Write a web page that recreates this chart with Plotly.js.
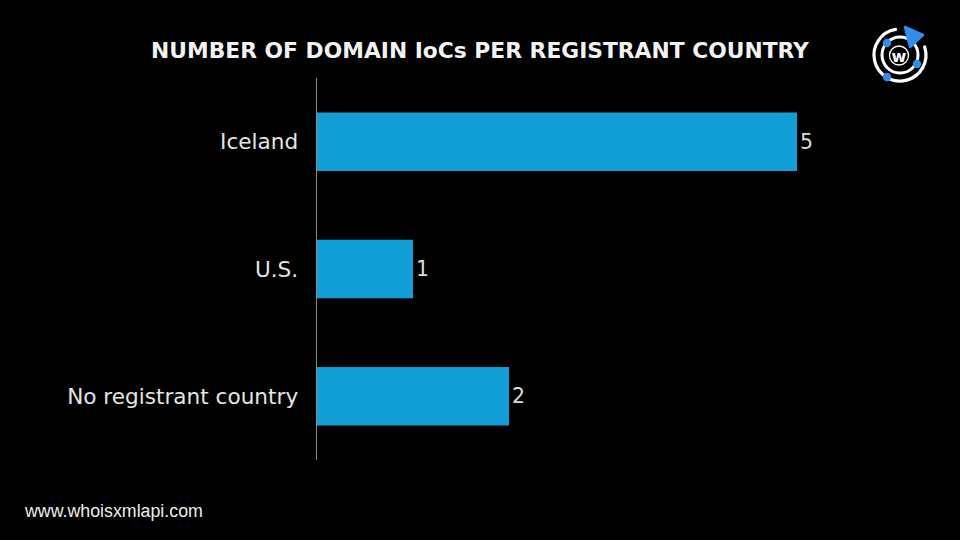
<!DOCTYPE html>
<html>
<head>
<meta charset="utf-8">
<script src="https://cdn.plot.ly/plotly-3.0.1.min.js"></script>
<style>html,body{margin:0;padding:0;background:#000;}#chart{width:960px;height:540px;}</style>
</head>
<body>
<div id="chart"></div>
<script>
const categories = ["Iceland", "U.S.", "No registrant country"];
const values = [5, 1, 2];
const chartTitle = "NUMBER OF DOMAIN IoCs PER REGISTRANT COUNTRY";
const footerText = "www.whoisxmlapi.com";

const logoSvg = '<svg xmlns="http://www.w3.org/2000/svg" width="62" height="62" viewBox="0 0 62 62">' +
  '<path d="M26.5 4.4 A26 26 0 1 0 55.7 22" fill="none" stroke="#fff" stroke-width="3.2" stroke-linecap="round"/>' +
  '<circle cx="31" cy="30" r="18" fill="none" stroke="#fff" stroke-width="3"/>' +
  '<circle cx="30" cy="30.5" r="9.5" fill="#000" stroke="#fff" stroke-width="1.3"/>' +
  '<text x="30" y="36.5" text-anchor="middle" font-family="DejaVu Sans, sans-serif" font-weight="bold" font-size="16" fill="#fff">w</text>' +
  '<circle cx="18" cy="18" r="4.2" fill="#2e8fea"/>' +
  '<circle cx="48" cy="39" r="4.2" fill="#2e8fea"/>' +
  '<circle cx="18" cy="52" r="4.2" fill="#2e8fea"/>' +
  '<path d="M36 2 L54 10 L41 22 Z" fill="#2e8fea" stroke="#2e8fea" stroke-width="2.5" stroke-linejoin="round"/>' +
  '</svg>';
const logoUri = 'data:image/svg+xml;charset=utf-8,' + encodeURIComponent(logoSvg);

const L = 317, R = 845, T = 78, B = 460;
const pw = R - L, ph = B - T;

const trace = {
  type: 'bar',
  orientation: 'h',
  y: categories,
  x: values,
  width: 0.46,
  marker: {color: '#129fd8'},
  text: values.map(String),
  textposition: 'outside',
  cliponaxis: false,
  textfont: {family: 'DejaVu Sans, sans-serif', size: 20.5, color: '#dcdcdc'},
  hoverinfo: 'none'
};

const layout = {
  width: 960, height: 540,
  paper_bgcolor: '#000', plot_bgcolor: '#000',
  margin: {l: L, r: 960 - R, t: T, b: 540 - B},
  showlegend: false,
  bargap: 0.54,
  title: {
    text: '<b>' + chartTitle + '</b>',
    x: 0.5, xref: 'container', xanchor: 'center',
    y: 1 - 50/540, yref: 'container', yanchor: 'middle',
    font: {family: 'DejaVu Sans, sans-serif', size: 21.8, color: '#f2f2f2'}
  },
  xaxis: {
    range: [0, 5.5],
    showgrid: false, zeroline: false, showticklabels: false, showline: false, ticks: ''
  },
  yaxis: {
    autorange: 'reversed',
    type: 'category',
    showgrid: false, zeroline: false,
    showline: true, linecolor: '#8a8a8a', linewidth: 1.5,
    ticks: 'outside', ticklen: 13, tickcolor: 'rgba(0,0,0,0)',
    tickfont: {family: 'DejaVu Sans, sans-serif', size: 21.6, color: '#e4e4e4'}
  },
  annotations: [{
    text: footerText,
    xref: 'paper', yref: 'paper',
    x: (22 - L) / pw, y: (B - 511) / ph,
    xanchor: 'left', yanchor: 'middle',
    showarrow: false,
    font: {family: 'Liberation Sans, Arial, sans-serif', size: 17.8, color: '#ededed'}
  }],
  images: [{
    source: logoUri,
    xref: 'paper', yref: 'paper',
    x: (869 - L) / pw, y: (B - 25) / ph,
    sizex: 62 / pw, sizey: 62 / ph,
    xanchor: 'left', yanchor: 'top',
    sizing: 'stretch', layer: 'above'
  }]
};

Plotly.newPlot('chart', [trace], layout, {displayModeBar: false, staticPlot: true});
</script>
</body>
</html>
